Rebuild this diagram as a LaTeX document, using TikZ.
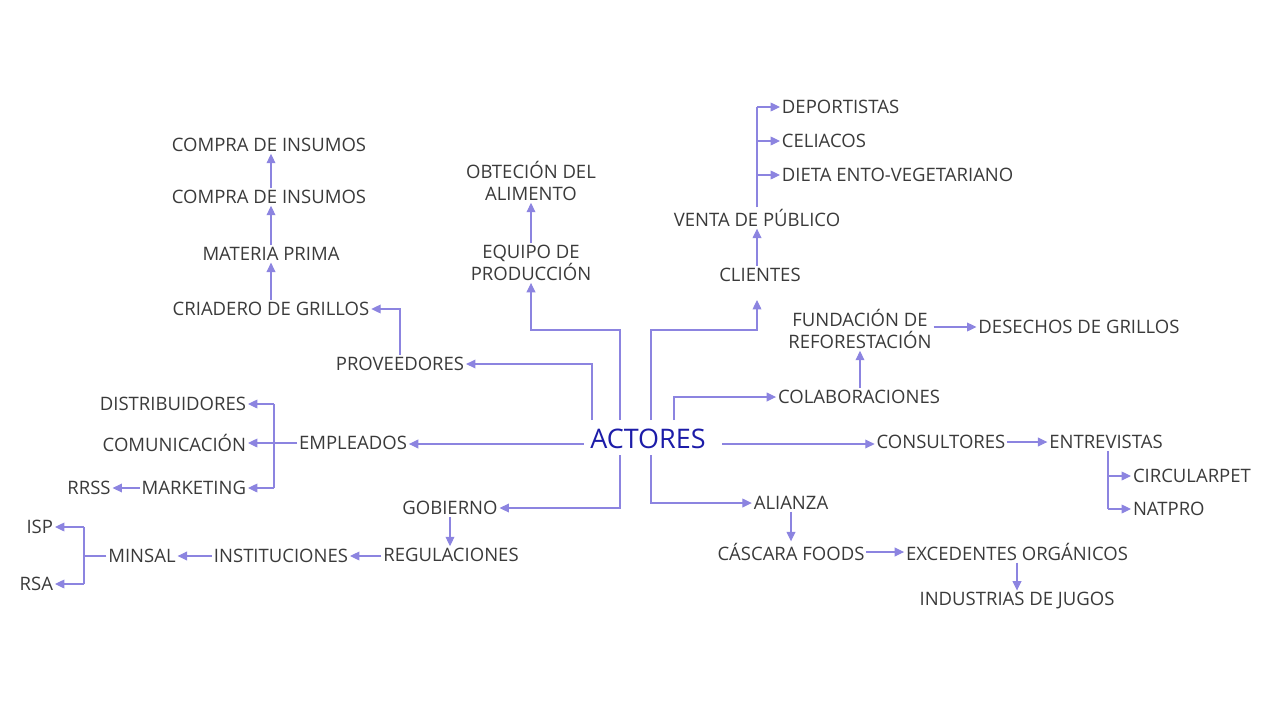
\documentclass[tikz,border=0pt]{standalone}
\usepackage{fontspec}
\setmainfont{Open Sans}
\usetikzlibrary{arrows.meta, calc}
\definecolor{linecol}{HTML}{8C84E0}
\definecolor{txtcol}{HTML}{3A3A3A}
\definecolor{maincol}{HTML}{1C1CA8}
\begin{document}
\begin{tikzpicture}[x=0.03cm, y=-0.03cm]
  \tikzset{item/.style={text=txtcol, font=\fontsize{15.8}{19}\selectfont, align=center, inner sep=1.5pt}}
  \tikzset{rootnode/.style={text=maincol, font=\fontsize{23}{27}\selectfont, inner sep=2pt}}
  \tikzset{ln/.style={draw=linecol, line width=0.9pt}}
  \tikzset{arr/.style={ln, -{Triangle[length=8pt, width=7.5pt]}}}

  \useasboundingbox (0,0) rectangle (1280,719);

  % root
  \node[rootnode] at (648,439) (actores) {ACTORES};

  % proveedores
  \node[item] at (400,364) (proveedores) {PROVEEDORES};
  \node[item] at (271,309) (criadero) {CRIADERO DE GRILLOS};
  \node[item] at (271,254) (materia) {MATERIA PRIMA};
  \node[item] at (269,197) (compra2) {COMPRA DE INSUMOS};
  \node[item] at (269,145) (compra1) {COMPRA DE INSUMOS};
  % equipo
  \node[item] at (531,263) (equipo) {EQUIPO DE\\PRODUCCIÓN};
  \node[item] at (531,181) (obtecion) {OBTECIÓN DEL\\ALIMENTO};
  % clientes
  \node[item] at (760,275) (clientes) {CLIENTES};
  \node[item] at (757,218) (venta) {VENTA DE PÚBLICO};
  \node[item, anchor=west] at (780,107) (deportistas) {DEPORTISTAS};
  \node[item, anchor=west] at (780,141) (celiacos) {CELIACOS};
  \node[item, anchor=west] at (780,175) (dieta) {DIETA ENTO-VEGETARIANO};
  % colaboraciones
  \node[item] at (860,329) (fundacion) {FUNDACIÓN DE\\REFORESTACIÓN};
  \node[item] at (1079,327) (desechos) {DESECHOS DE GRILLOS};
  \node[item] at (859,397) (colaboraciones) {COLABORACIONES};
  % consultores
  \node[item] at (941,442) (consultores) {CONSULTORES};
  \node[item] at (1106,442) (entrevistas) {ENTREVISTAS};
  \node[item, anchor=west] at (1131,476) (circularpet) {CIRCULARPET};
  \node[item, anchor=west] at (1131,509) (natpro) {NATPRO};
  % alianza
  \node[item] at (791,503) (alianza) {ALIANZA};
  \node[item] at (791,552) (cascara) {CÁSCARA FOODS};
  \node[item] at (1017,552) (excedentes) {EXCEDENTES ORGÁNICOS};
  \node[item] at (1017,601) (industrias) {INDUSTRIAS DE JUGOS};
  % empleados
  \node[item] at (353,443) (empleados) {EMPLEADOS};
  \node[item, anchor=east] at (248,404) (distribuidores) {DISTRIBUIDORES};
  \node[item, anchor=east] at (248,443) (comunicacion) {COMUNICACIÓN};
  \node[item, anchor=east] at (248,488) (marketing) {MARKETING};
  \node[item] at (89,488) (rrss) {RRSS};
  % gobierno
  \node[item] at (450,508) (gobierno) {GOBIERNO};
  \node[item] at (451,555) (regulaciones) {REGULACIONES};
  \node[item] at (281,556) (instituciones) {INSTITUCIONES};
  \node[item] at (142,556) (minsal) {MINSAL};
  \node[item, anchor=east] at (55,527) (isp) {ISP};
  \node[item, anchor=east] at (55,584) (rsa) {RSA};

  % from the root
  \draw[arr] (592,420) |- (proveedores.east);
  \draw[arr] (620,420) -- (620,330) -| (equipo.south);
  \draw[arr] (651,420) -- (651,330) -| (757,300);
  \draw[arr] (674,420) |- (colaboraciones.west);
  \draw[arr] ($(actores.east)+(14,5)$) -- (consultores.west |- 0,444);
  \draw[arr] ($(actores.west)+(-4,5)$) -- (empleados.east |- 0,444);
  \draw[arr] (651,455) |- (alianza.west);
  \draw[arr] (620,455) |- (gobierno.east);

  % second level
  \draw[arr] (proveedores.north) |- (criadero.east);
  \draw[arr] (criadero.north) -- (criadero.north |- materia.south);
  \draw[arr] (materia.north) -- (materia.north |- compra2.south);
  \draw[arr] (271,0 |- compra2.north) -- (271,0 |- compra1.south);
  \draw[arr] (equipo.north) -- (equipo.north |- obtecion.south);
  \draw[arr] (clientes.north -| 757,0) -- (757,0 |- venta.south);
  \coordinate (vtop) at (757,107);
  \draw[ln] (venta.north) -- (vtop);
  \foreach \t in {deportistas, celiacos, dieta}{
    \draw[arr] (vtop |- \t.west) -- (\t.west);
  }
  \draw[arr] (colaboraciones.north -| 860,0) -- (860,0 |- fundacion.south);
  \draw[arr] (fundacion.east |- desechos) -- (desechos.west);
  \draw[arr] (consultores.east |- 0,442) -- (entrevistas.west |- 0,442);
  \coordinate (etrunk) at (1108,509);
  \draw[ln] (entrevistas.south -| etrunk) -- (etrunk);
  \foreach \t in {circularpet, natpro}{
    \draw[arr] (etrunk |- \t.west) -- (\t.west);
  }
  \draw[arr] (alianza.south) -- (alianza.south |- cascara.north);
  \draw[arr] (cascara.east |- 0,552) -- (excedentes.west |- 0,552);
  \draw[arr] (excedentes.south) -- (excedentes.south |- industrias.north);
  \coordinate (mtrunk) at (274,404);
  \draw[ln] (empleados.west) -- (mtrunk |- empleados.west);
  \draw[ln] (mtrunk) -- (mtrunk |- marketing.east);
  \foreach \t in {distribuidores, comunicacion, marketing}{
    \draw[arr] (mtrunk |- \t.east) -- (\t.east);
  }
  \draw[arr] (marketing.west |- 0,488) -- (rrss.east |- 0,488);
  \draw[arr] (gobierno.south) -- (gobierno.south |- regulaciones.north);
  \draw[arr] (regulaciones.west |- 0,556) -- (instituciones.east |- 0,556);
  \draw[arr] (instituciones.west |- 0,556) -- (minsal.east |- 0,556);
  \coordinate (strunk) at (84,527);
  \draw[ln] (minsal.west) -- (strunk |- minsal.west);
  \draw[ln] (strunk) -- (strunk |- rsa.east);
  \foreach \t in {isp, rsa}{
    \draw[arr] (strunk |- \t.east) -- (\t.east);
  }
\end{tikzpicture}
\end{document}
